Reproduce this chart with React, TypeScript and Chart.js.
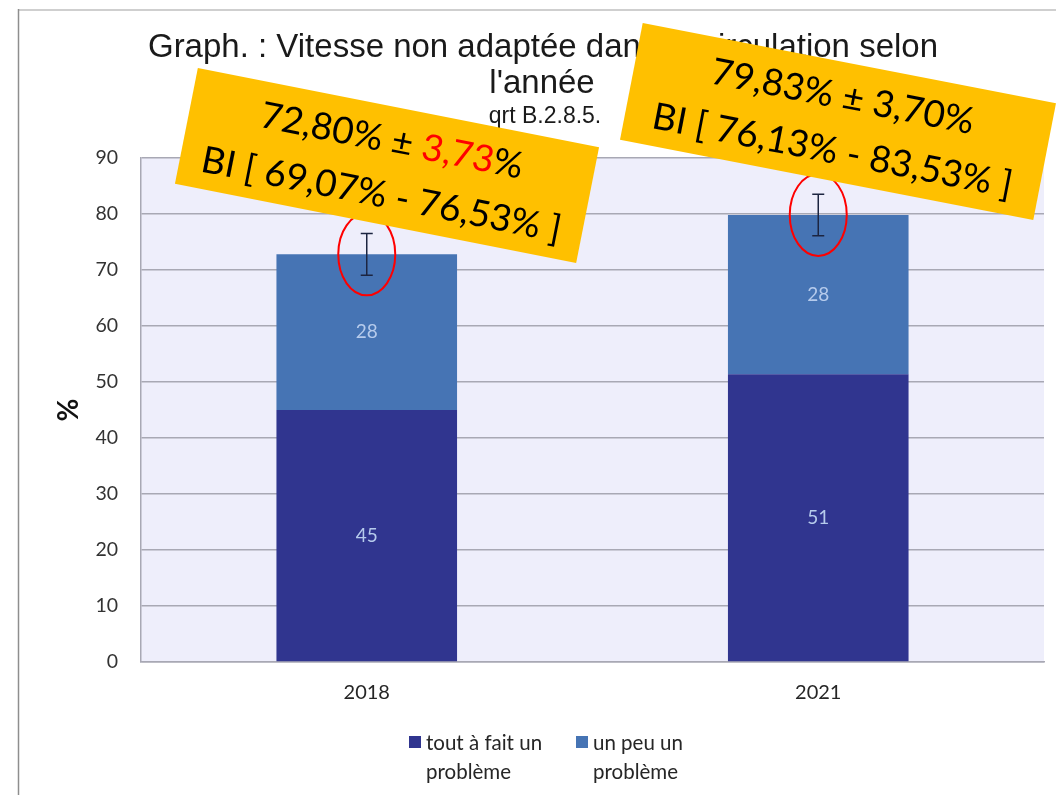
import React, { useEffect, useRef } from 'react';
import { Chart, registerables } from 'chart.js';
Chart.register(...registerables);

// ---- data ----
const categories = ['2018', '2021'];
const toutAFait = [45.0, 51.4];
const unPeu = [27.8, 28.4];
const errLow = [69.07, 76.13];
const errHigh = [76.53, 83.53];
const yMin = 0;
const yMax = 90;
const yStep = 10;
const seriesNames = ['tout à fait un problème', 'un peu un problème'];
const legendLines = [['tout à fait un', 'problème'], ['un peu un', 'problème']];
const annotMean = ['72,80%', '79,83%'];
const annotMargin = ['3,73', '3,70'];
const annotMarginColor = ['#FF0000', '#000000'];
const annotLow = ['69,07%', '76,13%'];
const annotHigh = ['76,53%', '83,53%'];
const titleLines = ['Graph. : Vitesse non adaptée dans la circulation selon', "l'année"];
const subtitle = 'qrt B.2.8.5.';

const DARK = '#30358F';
const LIGHT = '#4674B4';
const GRID = '#A8A8B4';
const LATO = 'Lato, "Noto Sans", sans-serif';

const bgPlugin = {
  id: 'bgPlugin',
  beforeDraw(chart: any) {
    const { ctx, chartArea, width, height } = chart;
    ctx.save();
    ctx.fillStyle = '#FFFFFF';
    ctx.fillRect(0, 0, width, height);
    // slide frame
    ctx.strokeStyle = '#CFCFCF';
    ctx.lineWidth = 2;
    ctx.beginPath();
    ctx.moveTo(18, 10);
    ctx.lineTo(width, 10);
    ctx.stroke();
    ctx.strokeStyle = '#8E8E8E';
    ctx.lineWidth = 1.5;
    ctx.beginPath();
    ctx.moveTo(18.5, 9);
    ctx.lineTo(18.5, height);
    ctx.stroke();
    // plot background
    ctx.fillStyle = '#EEEEFB';
    ctx.fillRect(chartArea.left, chartArea.top, chartArea.right - chartArea.left, chartArea.bottom - chartArea.top);
    // title
    ctx.fillStyle = '#1A1A1A';
    ctx.textAlign = 'center';
    ctx.textBaseline = 'alphabetic';
    ctx.font = '33px "Liberation Sans", Arial, sans-serif';
    ctx.fillText(titleLines[0], 543, 57);
    ctx.fillText(titleLines[1], 542, 93);
    ctx.font = '23px "Liberation Sans", Arial, sans-serif';
    ctx.fillText(subtitle, 545, 123);
    ctx.restore();
  },
};

const overlayPlugin = {
  id: 'overlayPlugin',
  afterDatasetsDraw(chart: any) {
    const { ctx } = chart;
    const yScale = chart.scales.y;
    ctx.save();
    // value labels
    ctx.font = `19px ${LATO}`;
    ctx.fillStyle = '#B6CBEC';
    ctx.textAlign = 'center';
    ctx.textBaseline = 'middle';
    chart.data.datasets.forEach((ds: any, di: number) => {
      const meta = chart.getDatasetMeta(di);
      meta.data.forEach((bar: any, i: number) => {
        const { x, y, base } = bar.getProps(['x', 'y', 'base'], true);
        ctx.fillText(String(Math.round(ds.data[i])), x, (y + base) / 2);
      });
    });
    // error bars + ellipses
    const meta = chart.getDatasetMeta(1);
    meta.data.forEach((bar: any, i: number) => {
      const x = bar.x;
      const yl = yScale.getPixelForValue(errLow[i]);
      const yh = yScale.getPixelForValue(errHigh[i]);
      ctx.strokeStyle = '#1C2541';
      ctx.lineWidth = 1.5;
      ctx.beginPath();
      ctx.moveTo(x, yl);
      ctx.lineTo(x, yh);
      ctx.moveTo(x - 6, yl);
      ctx.lineTo(x + 6, yl);
      ctx.moveTo(x - 6, yh);
      ctx.lineTo(x + 6, yh);
      ctx.stroke();
      const ym = yScale.getPixelForValue((errLow[i] + errHigh[i]) / 2);
      ctx.strokeStyle = '#FF0000';
      ctx.lineWidth = 2;
      ctx.beginPath();
      ctx.ellipse(x, ym, 28.5, 41, 0, 0, Math.PI * 2);
      ctx.stroke();
    });
    ctx.restore();
  },
  afterDraw(chart: any) {
    const { ctx } = chart;
    ctx.save();
    // legend
    const items = [
      { sq: 409, tx: 426, color: chart.data.datasets[0].backgroundColor },
      { sq: 576, tx: 593, color: chart.data.datasets[1].backgroundColor },
    ];
    ctx.font = `20.5px ${LATO}`;
    ctx.textAlign = 'left';
    ctx.textBaseline = 'middle';
    items.forEach((it, i) => {
      ctx.fillStyle = it.color;
      ctx.fillRect(it.sq, 736, 12, 12);
      ctx.fillStyle = '#262626';
      legendLines[i].forEach((ln, k) => ctx.fillText(ln, it.tx, 743 + k * 29));
    });
    // annotation boxes
    const boxes = [
      { cx: 387, cy: 165.5, w: 409, h: 118, angle: 11.2 },
      { cx: 838, cy: 121.5, w: 421, h: 119, angle: 11.0 },
    ];
    boxes.forEach((b, i) => {
      ctx.save();
      ctx.translate(b.cx, b.cy);
      ctx.rotate((b.angle * Math.PI) / 180);
      ctx.fillStyle = '#FFC000';
      ctx.fillRect(-b.w / 2, -b.h / 2, b.w, b.h);
      ctx.font = `37px ${LATO}`;
      ctx.textBaseline = 'alphabetic';
      ctx.textAlign = 'left';
      const lines = [
        [
          [annotMean[i] + ' ± ', '#000000'],
          [annotMargin[i], annotMarginColor[i]],
          ['%', '#000000'],
        ],
        [[`BI [ ${annotLow[i]} - ${annotHigh[i]} ]`, '#000000']],
      ];
      const baselines = [-13, 42];
      lines.forEach((segs, li) => {
        const total = segs.reduce((s, sg) => s + ctx.measureText(sg[0]).width, 0);
        let x = -total / 2;
        segs.forEach((sg) => {
          ctx.fillStyle = sg[1];
          ctx.fillText(sg[0], x, baselines[li]);
          x += ctx.measureText(sg[0]).width;
        });
      });
      ctx.restore();
    });
    ctx.restore();
  },
};

export default function App() {
  const ref = useRef<HTMLCanvasElement | null>(null);
  useEffect(() => {
    if (!ref.current) return;
    const chart = new Chart(ref.current, {
      type: 'bar',
      data: {
        labels: categories,
        datasets: [
          { label: seriesNames[0], data: toutAFait, backgroundColor: DARK, borderWidth: 0, categoryPercentage: 0.8, barPercentage: 0.5 },
          { label: seriesNames[1], data: unPeu, backgroundColor: LIGHT, borderWidth: 0, categoryPercentage: 0.8, barPercentage: 0.5 },
        ],
      },
      options: {
        responsive: false,
        animation: false,
        devicePixelRatio: 1,
        layout: { padding: { left: 0, top: 158, right: 12, bottom: 83 } },
        plugins: { legend: { display: false }, title: { display: false }, tooltip: { enabled: false } },
        scales: {
          x: {
            stacked: true,
            grid: { display: false, drawTicks: false },
            border: { display: true, color: GRID, width: 1.5 },
            ticks: { color: '#262626', font: { family: LATO, size: 20 }, padding: 19 },
            afterFit: (s: any) => { s.height = 50; },
          },
          y: {
            stacked: true,
            min: yMin,
            max: yMax,
            ticks: { stepSize: yStep, color: '#333333', font: { family: LATO, size: 19.5 }, padding: 23 },
            grid: { color: GRID, lineWidth: 1.5, drawTicks: false },
            border: { display: true, color: GRID, width: 1.5 },
            title: { display: true, text: '%', color: '#111111', font: { family: LATO, size: 28, weight: 'bold' }, padding: { top: 52, bottom: 0 } },
            afterFit: (s: any) => { s.width = 141; },
          },
        },
      },
      plugins: [bgPlugin, overlayPlugin],
    });
    return () => chart.destroy();
  }, []);
  return (
    <div style={{ position: 'absolute', left: 0, top: 0 }}>
      <canvas ref={ref} width={1056} height={795} style={{ display: 'block' }} />
    </div>
  );
}
